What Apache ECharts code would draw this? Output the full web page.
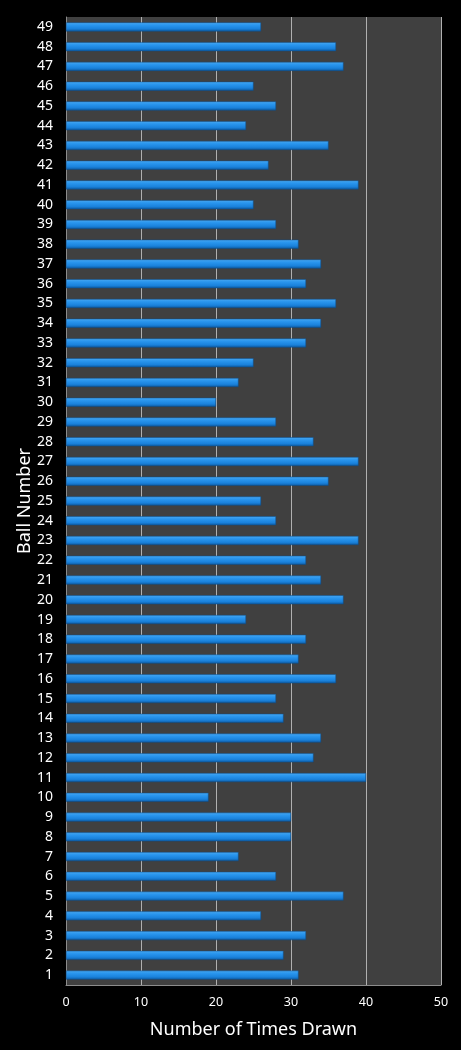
<!DOCTYPE html>
<html>
<head>
<meta charset="utf-8">
<script src="https://cdn.jsdelivr.net/npm/echarts@6/dist/echarts.min.js"></script>
<style>
  html, body { margin: 0; padding: 0; background: #000; }
  #cv { width: 461px; height: 1050px; }
</style>
</head>
<body>
<div id="cv"></div>
<script>
var balls = [];
for (var b = 1; b <= 49; b++) balls.push(String(b));

// times drawn, ball 1 .. 49
var timesDrawn = [
  31, 29, 32, 26, 37, 28, 23, 30, 30, 19,
  40, 33, 34, 29, 28, 36, 31, 32, 24, 37,
  34, 32, 39, 28, 26, 35, 39, 33, 28, 20,
  23, 25, 32, 34, 36, 32, 34, 31, 28, 25,
  39, 27, 35, 24, 28, 25, 37, 36, 26
];

var xTicks = [0, 10, 20, 30, 40, 50];

var myChart = echarts.init(document.getElementById('cv'));

var option = {
    backgroundColor: '#000',
    animation: false,
    grid: {
        left: 66,
        right: 20,
        top: 17,
        bottom: 65,
        show: true,
        backgroundColor: '#404040',
        borderWidth: 0
    },
    xAxis: {
        type: 'value',
        min: xTicks[0],
        max: xTicks[xTicks.length - 1],
        interval: 10,
        name: 'Number of Times Drawn',
        nameLocation: 'middle',
        nameGap: 36,
        nameMoveOverlap: false,
        nameTextStyle: { color: '#fff', fontSize: 18, fontFamily: 'Noto Sans' },
        axisLine: { show: true, lineStyle: { color: '#8c8c8c', width: 1 } },
        axisTick: { show: false },
        axisLabel: { color: '#fff', fontSize: 12.5, fontFamily: 'Noto Sans', margin: 11 },
        splitLine: { show: true, lineStyle: { color: '#b0b0b0', width: 1 } }
    },
    yAxis: {
        type: 'category',
        data: balls,
        name: 'Ball Number',
        nameLocation: 'middle',
        nameGap: 32,
        nameMoveOverlap: false,
        nameTextStyle: { color: '#fff', fontSize: 18, fontFamily: 'Noto Sans' },
        axisLine: { show: true, lineStyle: { color: '#8c8c8c', width: 1 } },
        axisTick: { show: false },
        axisLabel: { color: '#fff', fontSize: 14, fontFamily: 'Noto Sans', margin: 13 },
        splitLine: { show: false }
    },
    series: [
        {
            name: 'Number of Times Drawn',
            type: 'bar',
            data: timesDrawn,
            barWidth: 9,
            itemStyle: {
                color: new echarts.graphic.LinearGradient(0, 0, 0, 1, [
                    { offset: 0, color: '#4aa8f0' },
                    { offset: 0.3, color: '#2a96ee' },
                    { offset: 0.7, color: '#1a82dc' },
                    { offset: 1, color: '#0e5aa0' }
                ]),
                borderColor: '#0b4f8e',
                borderWidth: 0.5
            }
        }
    ]
};

myChart.setOption(option);
</script>
</body>
</html>
